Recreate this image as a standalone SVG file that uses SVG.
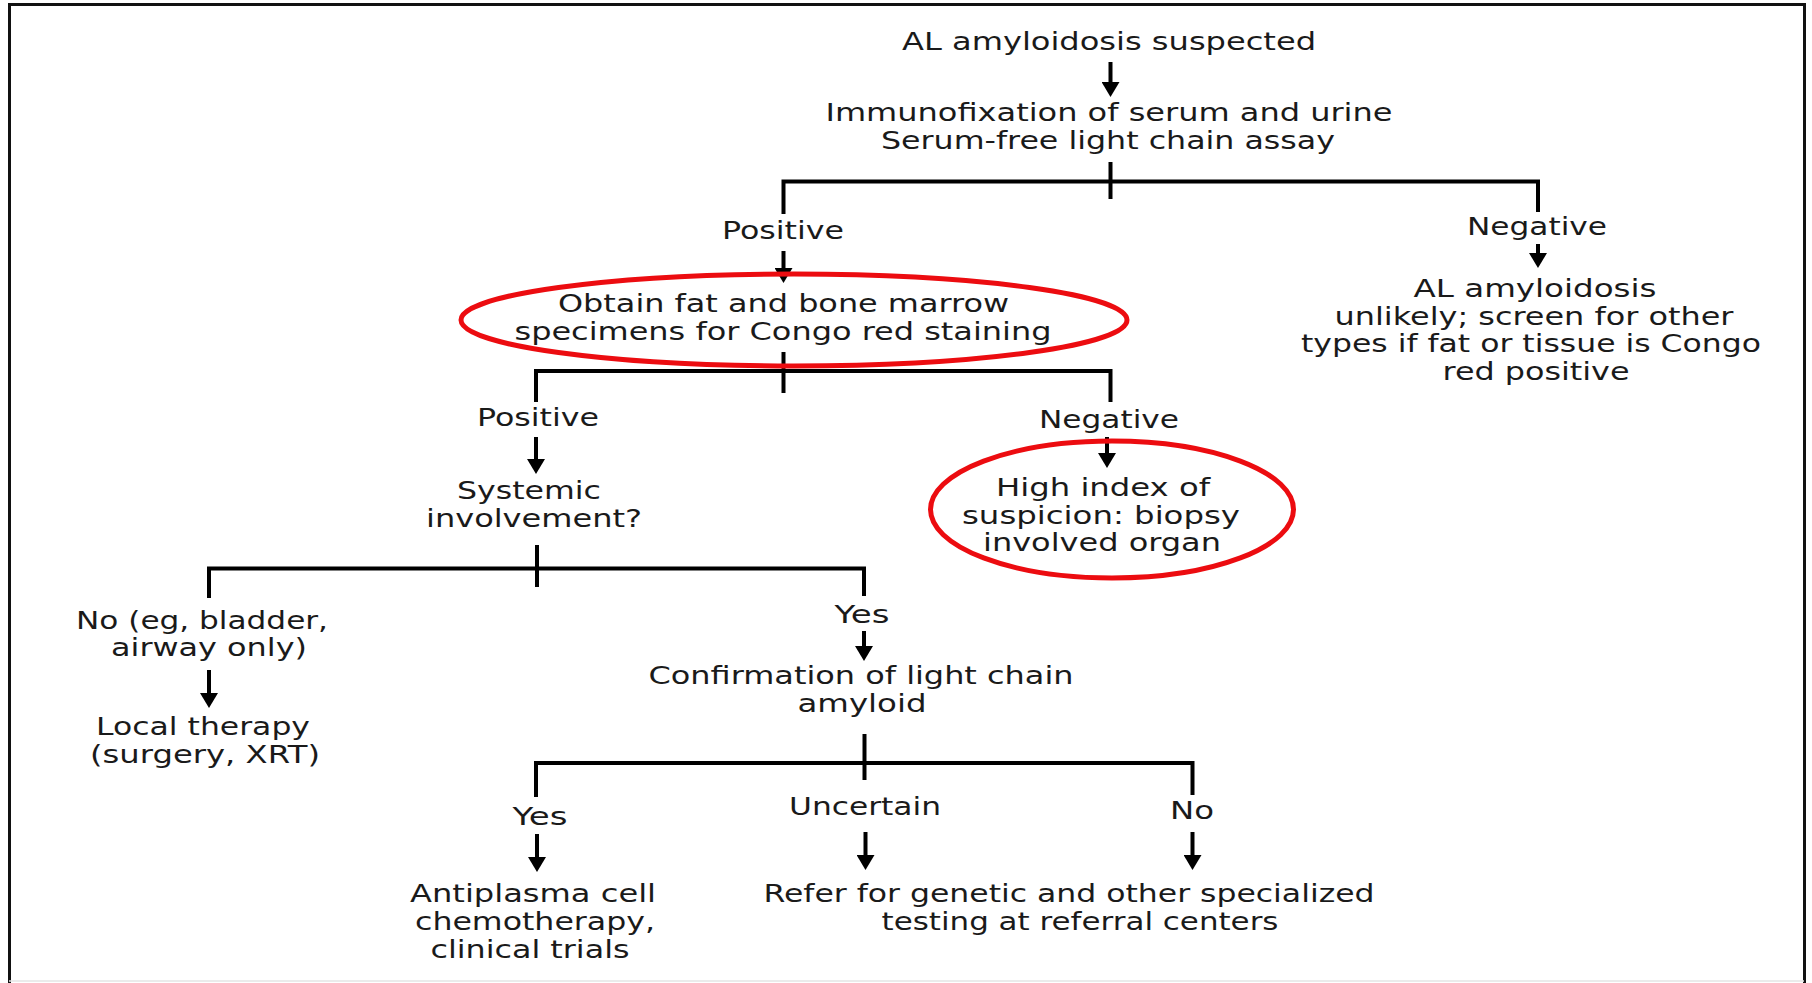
<svg xmlns="http://www.w3.org/2000/svg" width="1812" height="983" viewBox="0 0 1812 983">
<style>
.t{font-family:"DejaVu Sans","Liberation Sans",sans-serif;font-size:24px;fill:#1a1a1a;text-anchor:middle}
.c{stroke:#000;stroke-width:4;fill:none}
.ring{fill:none;stroke:#ec0c10;stroke-width:5}
</style>
<defs>
<marker id="ah" markerUnits="userSpaceOnUse" markerWidth="15" markerHeight="18" viewBox="0 0 15 18" refX="4" refY="9" orient="auto">
<path d="M0,0 L15,9 L0,18 Z" fill="#000"/>
</marker>
</defs>
<rect x="0" y="0" width="1812" height="983" fill="#fff"/>
<path d="M9.5,983 V4.5 H1804.5 V983" fill="none" stroke="#111" stroke-width="3"/>
<line x1="9" y1="981" x2="1804" y2="981" stroke="#e4e4e4" stroke-width="1.5"/>

<g id="connectors">
<line class="c" x1="1110.5" y1="62" x2="1110.5" y2="86" marker-end="url(#ah)"/>
<line class="c" x1="1110.5" y1="162" x2="1110.5" y2="199"/>
<path class="c" d="M783.5,214 V181.5 H1538 V212"/>
<line class="c" x1="783.5" y1="251" x2="783.5" y2="272" marker-end="url(#ah)"/>
<line class="c" x1="1538" y1="244" x2="1538" y2="257" marker-end="url(#ah)"/>
<line class="c" x1="783.5" y1="352" x2="783.5" y2="393"/>
<path class="c" d="M536,402 V371 H1110.5 V402"/>
<line class="c" x1="536" y1="437" x2="536" y2="463" marker-end="url(#ah)"/>
<line class="c" x1="1107" y1="437" x2="1107" y2="457" marker-end="url(#ah)"/>
<line class="c" x1="537" y1="545" x2="537" y2="587"/>
<path class="c" d="M209,598 V568.5 H864 V596"/>
<line class="c" x1="209" y1="670" x2="209" y2="697" marker-end="url(#ah)"/>
<line class="c" x1="864" y1="631" x2="864" y2="650" marker-end="url(#ah)"/>
<line class="c" x1="864.5" y1="734" x2="864.5" y2="780"/>
<path class="c" d="M536,797 V763 H1192.5 V795"/>
<line class="c" x1="537" y1="834" x2="537" y2="861" marker-end="url(#ah)"/>
<line class="c" x1="865.5" y1="832" x2="865.5" y2="859" marker-end="url(#ah)"/>
<line class="c" x1="1192.5" y1="832" x2="1192.5" y2="859" marker-end="url(#ah)"/>
</g>

<g id="n-suspected">
<text class="t" x="1109" y="50" textLength="414" lengthAdjust="spacingAndGlyphs">AL amyloidosis suspected</text>
</g>
<g id="n-immunofixation">
<text class="t" x="1109" y="121" textLength="567" lengthAdjust="spacingAndGlyphs">Immunofixation of serum and urine</text>
<text class="t" x="1108" y="149" textLength="454" lengthAdjust="spacingAndGlyphs">Serum-free light chain assay</text>
</g>
<g id="l-positive1">
<text class="t" x="783" y="239" textLength="122" lengthAdjust="spacingAndGlyphs">Positive</text>
</g>
<g id="l-negative1">
<text class="t" x="1537" y="235" textLength="140" lengthAdjust="spacingAndGlyphs">Negative</text>
</g>
<g id="n-unlikely">
<text class="t" x="1535" y="297" textLength="243" lengthAdjust="spacingAndGlyphs">AL amyloidosis</text>
<text class="t" x="1534" y="325" textLength="399" lengthAdjust="spacingAndGlyphs">unlikely; screen for other</text>
<text class="t" x="1531" y="352" textLength="460" lengthAdjust="spacingAndGlyphs">types if fat or tissue is Congo</text>
<text class="t" x="1536" y="380" textLength="187" lengthAdjust="spacingAndGlyphs">red positive</text>
</g>
<g id="n-congo">
<ellipse class="ring" cx="794" cy="320" rx="333" ry="46"/>
<text class="t" x="783.5" y="312" textLength="451" lengthAdjust="spacingAndGlyphs">Obtain fat and bone marrow</text>
<text class="t" x="783" y="340" textLength="537" lengthAdjust="spacingAndGlyphs">specimens for Congo red staining</text>
</g>
<g id="l-positive2">
<text class="t" x="538" y="426" textLength="122" lengthAdjust="spacingAndGlyphs">Positive</text>
</g>
<g id="l-negative2">
<text class="t" x="1109" y="428" textLength="140" lengthAdjust="spacingAndGlyphs">Negative</text>
</g>
<g id="n-systemic">
<text class="t" x="529" y="499" textLength="144" lengthAdjust="spacingAndGlyphs">Systemic</text>
<text class="t" x="534" y="527" textLength="216" lengthAdjust="spacingAndGlyphs">involvement?</text>
</g>
<g id="n-biopsy">
<ellipse class="ring" cx="1112" cy="509.5" rx="181.5" ry="68.5"/>
<text class="t" x="1103" y="496" textLength="214" lengthAdjust="spacingAndGlyphs">High index of</text>
<text class="t" x="1101" y="524" textLength="278" lengthAdjust="spacingAndGlyphs">suspicion: biopsy</text>
<text class="t" x="1102" y="551" textLength="238" lengthAdjust="spacingAndGlyphs">involved organ</text>
</g>
<g id="l-no1">
<text class="t" x="202" y="629" textLength="252" lengthAdjust="spacingAndGlyphs">No (eg, bladder,</text>
<text class="t" x="209" y="656" textLength="196" lengthAdjust="spacingAndGlyphs">airway only)</text>
</g>
<g id="l-yes1">
<text class="t" x="862" y="623" textLength="55" lengthAdjust="spacingAndGlyphs">Yes</text>
</g>
<g id="n-local">
<text class="t" x="203" y="735" textLength="214" lengthAdjust="spacingAndGlyphs">Local therapy</text>
<text class="t" x="205" y="763" textLength="230" lengthAdjust="spacingAndGlyphs">(surgery, XRT)</text>
</g>
<g id="n-confirmation">
<text class="t" x="861" y="684" textLength="425" lengthAdjust="spacingAndGlyphs">Confirmation of light chain</text>
<text class="t" x="862" y="712" textLength="129" lengthAdjust="spacingAndGlyphs">amyloid</text>
</g>
<g id="l-yes2">
<text class="t" x="540" y="825" textLength="55" lengthAdjust="spacingAndGlyphs">Yes</text>
</g>
<g id="l-uncertain">
<text class="t" x="865" y="815" textLength="152" lengthAdjust="spacingAndGlyphs">Uncertain</text>
</g>
<g id="l-no2">
<text class="t" x="1192" y="819" textLength="44" lengthAdjust="spacingAndGlyphs">No</text>
</g>
<g id="n-chemo">
<text class="t" x="533" y="902" textLength="246" lengthAdjust="spacingAndGlyphs">Antiplasma cell</text>
<text class="t" x="535" y="930" textLength="240" lengthAdjust="spacingAndGlyphs">chemotherapy,</text>
<text class="t" x="530" y="958" textLength="199" lengthAdjust="spacingAndGlyphs">clinical trials</text>
</g>
<g id="n-refer">
<text class="t" x="1069" y="902" textLength="611" lengthAdjust="spacingAndGlyphs">Refer for genetic and other specialized</text>
<text class="t" x="1080" y="930" textLength="397" lengthAdjust="spacingAndGlyphs">testing at referral centers</text>
</g>
</svg>
